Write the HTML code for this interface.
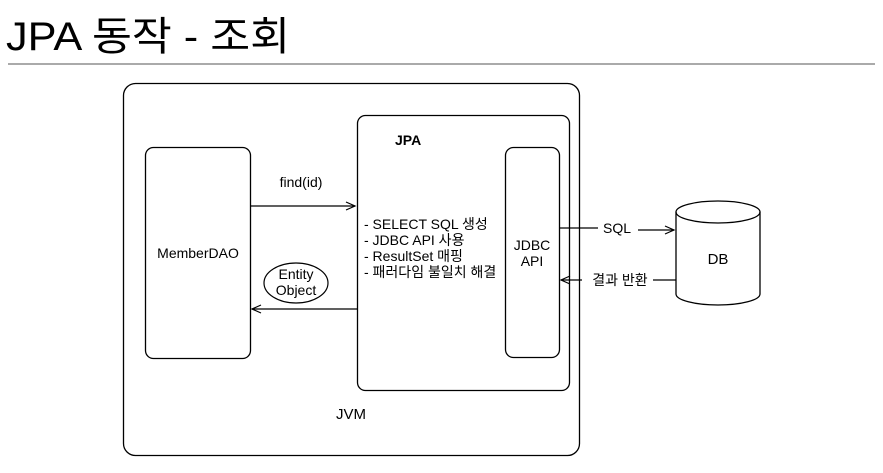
<!DOCTYPE html>
<html><head><meta charset="utf-8"><style>
body{margin:0;width:883px;height:468px;background:#fff;overflow:hidden}
</style></head><body>
<svg width="883" height="468" xmlns="http://www.w3.org/2000/svg" font-family="'Liberation Sans','Noto Sans CJK KR',sans-serif">
<text x="6" y="50" font-size="40" fill="#000" textLength="284" lengthAdjust="spacingAndGlyphs">JPA 동작 - 조회</text>
<line x1="8" y1="64" x2="875" y2="64" stroke="#555" stroke-width="1"/>
<rect x="123.5" y="83.5" width="456" height="372" rx="12" fill="none" stroke="#000" stroke-width="1.3"/>
<rect x="357.5" y="115.5" width="212" height="275" rx="8" fill="none" stroke="#000" stroke-width="1.3"/>
<rect x="505.5" y="147.5" width="54" height="210" rx="8" fill="none" stroke="#000" stroke-width="1.3"/>
<rect x="145.5" y="147.5" width="105" height="211" rx="8" fill="none" stroke="#000" stroke-width="1.3"/>
<text x="395" y="145" font-size="14" font-weight="bold">JPA</text>
<text x="198" y="258" font-size="14" text-anchor="middle">MemberDAO</text>
<text x="532" y="250" font-size="14" text-anchor="middle">JDBC</text>
<text x="532" y="266" font-size="14" text-anchor="middle">API</text>
<text x="364" y="229" font-size="14">- SELECT SQL 생성</text>
<text x="364" y="245" font-size="14">- JDBC API 사용</text>
<text x="364" y="261" font-size="14">- ResultSet 매핑</text>
<text x="364" y="277" font-size="14">- 패러다임 불일치 해결</text>
<text x="301" y="187" font-size="14" text-anchor="middle">find(id)</text>
<line x1="250" y1="206" x2="355" y2="206" stroke="#000" stroke-width="1.2"/>
<polyline points="346,202 355,206 346,210" fill="none" stroke="#000" stroke-width="1.2"/>
<line x1="252" y1="309" x2="357" y2="309" stroke="#000" stroke-width="1.2"/>
<polyline points="261,305 252,309 261,313" fill="none" stroke="#000" stroke-width="1.2"/>
<ellipse cx="296" cy="283" rx="32" ry="20" fill="none" stroke="#000" stroke-width="1.2"/>
<text x="296" y="279" font-size="14" text-anchor="middle">Entity</text>
<text x="296" y="295" font-size="14" text-anchor="middle">Object</text>
<line x1="559" y1="228" x2="598" y2="228" stroke="#000" stroke-width="1.2"/>
<text x="617" y="233" font-size="14" text-anchor="middle">SQL</text>
<line x1="638" y1="230" x2="674" y2="230" stroke="#000" stroke-width="1.2"/>
<polyline points="665,226 674,230 665,234" fill="none" stroke="#000" stroke-width="1.2"/>
<line x1="561" y1="280" x2="582" y2="280" stroke="#000" stroke-width="1.2"/>
<polyline points="570,276 561,280 570,284" fill="none" stroke="#000" stroke-width="1.2"/>
<text x="620" y="285" font-size="14" text-anchor="middle">결과 반환</text>
<line x1="653" y1="280" x2="676" y2="280" stroke="#000" stroke-width="1.2"/>
<path d="M676,212 L676,294 A42,11 0 0 0 760,294 L760,212" fill="none" stroke="#000" stroke-width="1.3"/>
<ellipse cx="718" cy="212" rx="42" ry="11" fill="none" stroke="#000" stroke-width="1.3"/>
<text x="718" y="264" font-size="15" text-anchor="middle">DB</text>
<text x="351" y="419" font-size="15" text-anchor="middle">JVM</text>
</svg>
</body></html>
